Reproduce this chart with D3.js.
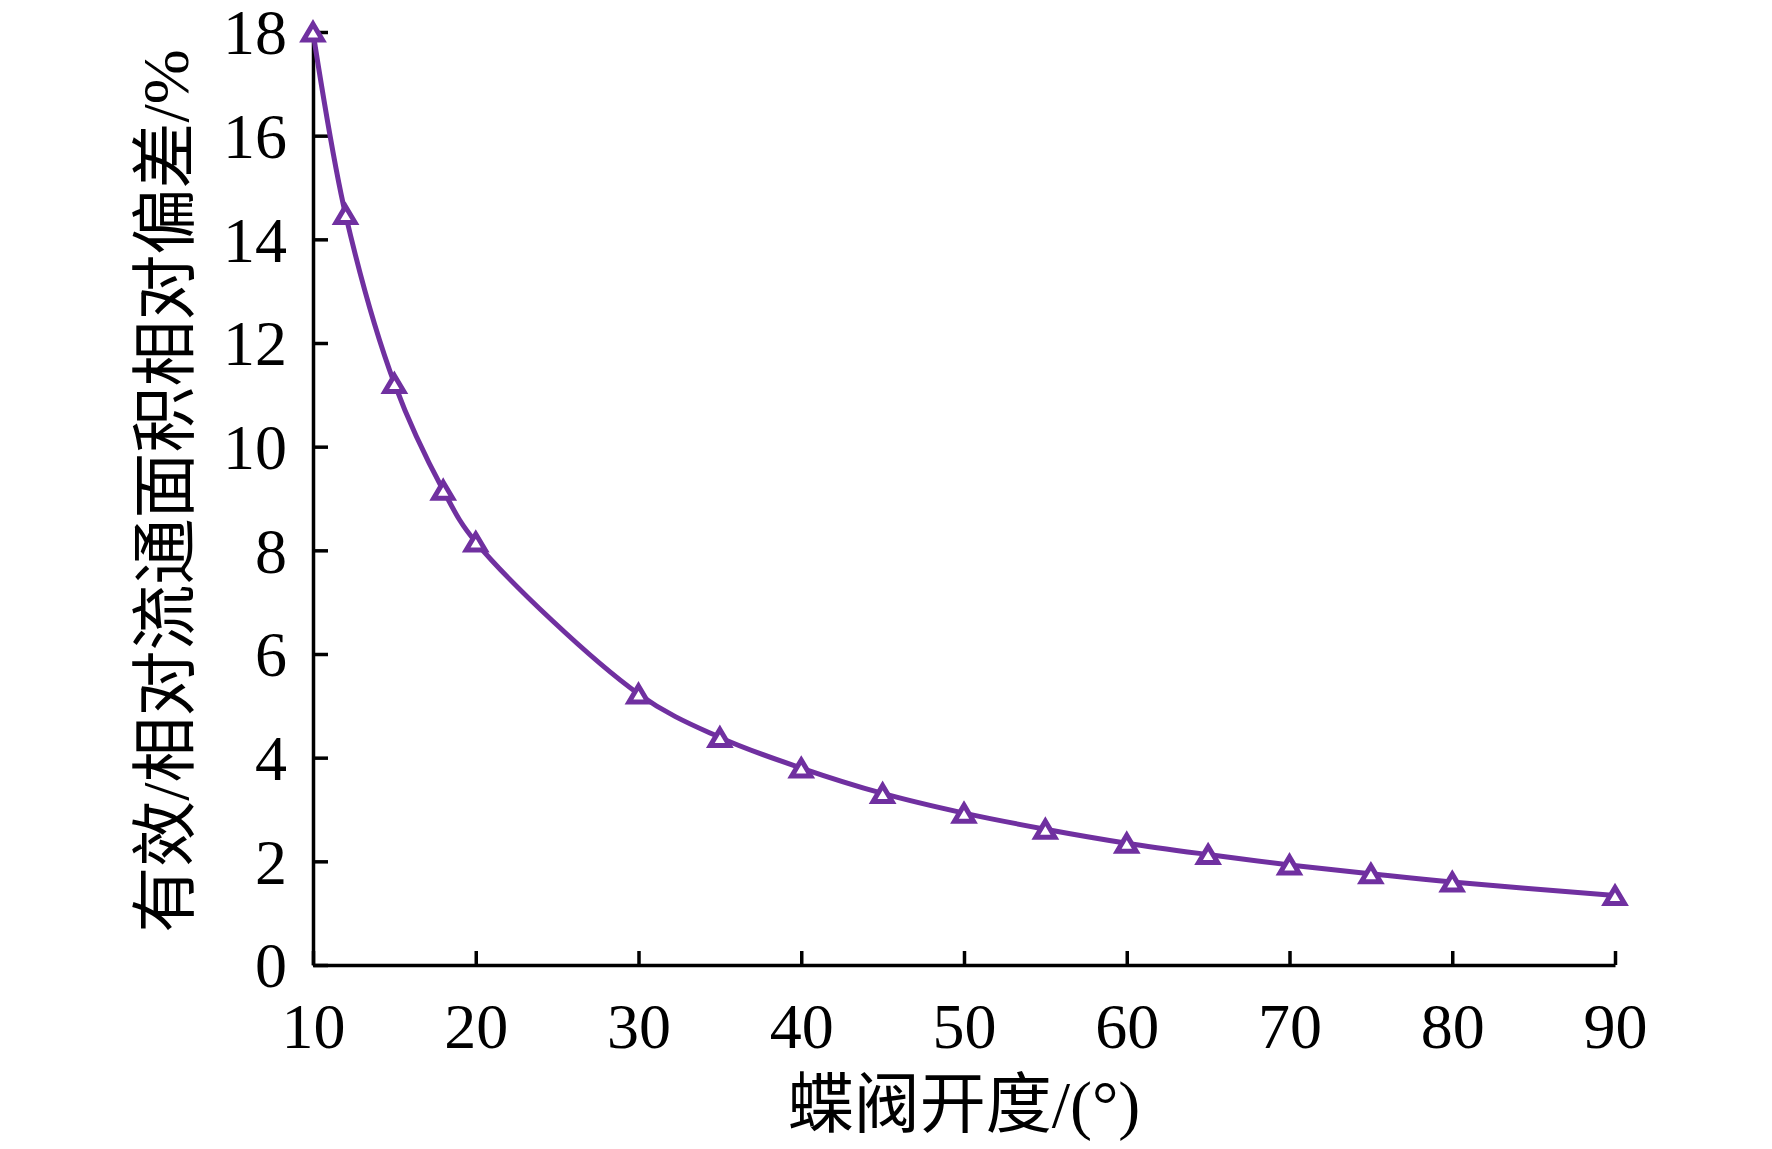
<!DOCTYPE html>
<html>
<head>
<meta charset="utf-8">
<script src="https://cdn.jsdelivr.net/npm/d3@7"></script>
<style>
  body { margin: 0; background: #ffffff; }
  svg text { font-family: "Liberation Serif", "Noto Sans CJK SC", serif; fill: #000; }
</style>
</head>
<body>
<svg id="chart" width="1772" height="1149"></svg>
<script>
// valve opening (deg) and relative deviation (%)
var openings = [10, 12, 15, 18, 20, 30, 35, 40, 45, 50, 55, 60, 65, 70, 75, 80, 90];
var deviation = [18.0, 14.48, 11.22, 9.16, 8.16, 5.23, 4.39, 3.80, 3.31, 2.93, 2.62, 2.35, 2.13, 1.93, 1.76, 1.60, 1.34];
var xTicks = [10, 20, 30, 40, 50, 60, 70, 80, 90];
var yTicks = [0, 2, 4, 6, 8, 10, 12, 14, 16, 18];
var xTitle = "蝶阀开度/(°)";
var yTitle = "有效/相对流通面积相对偏差/%";

var width = 1772, height = 1149,
    margin = {top: 32, right: 157, bottom: 184, left: 313},
    lineColor = "#7030a0";

var svg = d3.select("#chart");

svg.append("rect")
    .attr("width", width)
    .attr("height", height)
    .style("fill", "#ffffff");

var x = d3.scaleLinear()
      .domain([10, 90])
      .range([margin.left, width - margin.right]);

var y = d3.scaleLinear()
      .domain([0, 18])
      .range([height - margin.bottom, margin.top]);

// axes, ticks pointing inwards
var xAxis = svg.append("g")
      .attr("transform", "translate(0," + y(0) + ")")
      .call(d3.axisBottom(x)
              .tickValues(xTicks)
              .tickSizeInner(-14)
              .tickSizeOuter(0)
              .tickPadding(38)
              .tickFormat(d3.format("d")));

var yAxis = svg.append("g")
      .attr("transform", "translate(" + x(10) + ",0)")
      .call(d3.axisLeft(y)
              .tickValues(yTicks)
              .tickSizeInner(-15)
              .tickSizeOuter(0)
              .tickPadding(26)
              .tickFormat(d3.format("d")));

svg.selectAll(".domain, .tick line")
    .style("stroke", "#000")
    .style("stroke-width", 3.5);

svg.selectAll(".tick text")
    .style("font-size", "64px")
    .style("font-family", "Liberation Serif, serif");

xAxis.selectAll(".tick text").attr("dy", "0.71em");
yAxis.selectAll(".tick text").attr("dy", "0.34em");

// axis titles
svg.append("text")
    .attr("x", (x(10) + x(90)) / 2)
    .attr("y", 1127)
    .attr("text-anchor", "middle")
    .style("font-size", "66px")
    .text(xTitle);

svg.append("text")
    .attr("transform", "translate(188," + 491 + ") rotate(-90)")
    .attr("text-anchor", "middle")
    .style("font-size", "66px")
    .text(yTitle);

var data = openings.map(function(d, i) { return {x: d, y: deviation[i]}; });

// smoothed line
var line = d3.line()
      .x(function(d) { return x(d.x); })
      .y(function(d) { return y(d.y); })
      .curve(d3.curveCatmullRom.alpha(0.5));

svg.append("path")
    .datum(data)
    .attr("d", line)
    .style("fill", "none")
    .style("stroke", lineColor)
    .style("stroke-width", 5);

// hollow triangle markers
var tw = 19, th = 16;
var tri = "M0," + (-th/2) + "L" + (tw/2) + "," + (th/2) + "L" + (-tw/2) + "," + (th/2) + "Z";

svg.selectAll("path.marker")
    .data(data)
    .enter()
    .append("path")
    .attr("class", "marker")
    .attr("d", tri)
    .attr("transform", function(d) { return "translate(" + x(d.x) + "," + y(d.y) + ")"; })
    .style("fill", "#ffffff")
    .style("stroke", lineColor)
    .style("stroke-width", 5)
    .style("stroke-linejoin", "miter");
</script>
</body>
</html>
